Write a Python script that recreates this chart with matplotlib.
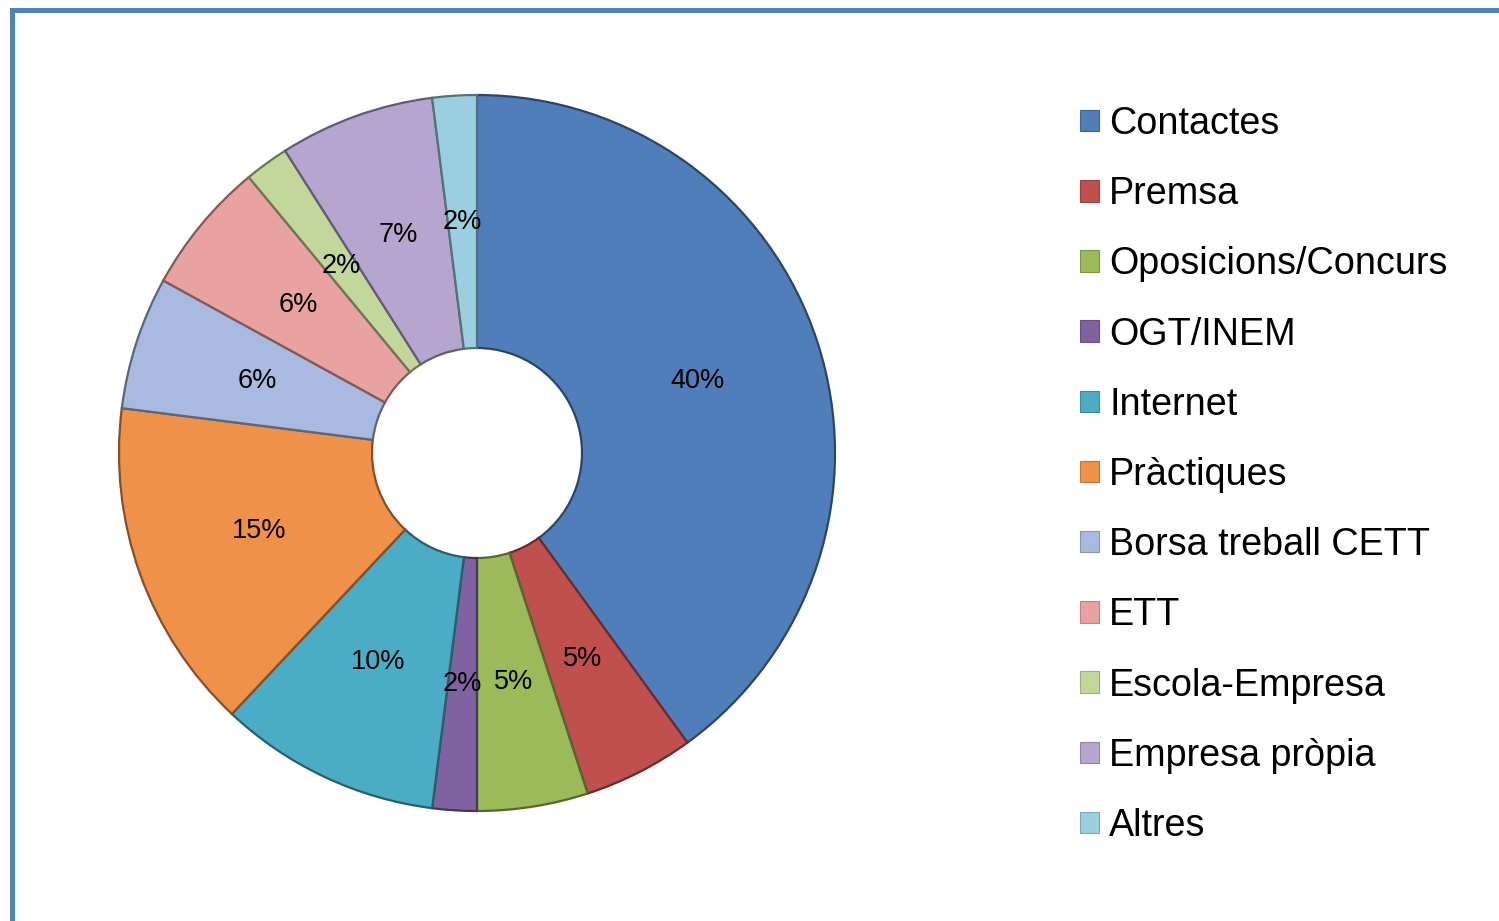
import matplotlib
matplotlib.use("Agg")
import matplotlib.pyplot as plt
from matplotlib.lines import Line2D
from matplotlib.patches import Patch
from matplotlib.colors import to_rgb

categories = ["Contactes", "Premsa", "Oposicions/Concurs", "OGT/INEM", "Internet",
              "Pràctiques", "Borsa treball CETT", "ETT", "Escola-Empresa",
              "Empresa pròpia", "Altres"]
values = [40, 5, 5, 2, 10, 15, 6, 6, 2, 7, 2]
colors = ["#4F7EBA", "#C0504D", "#9BBB59", "#7F63A1", "#4BACC6", "#F0914A",
          "#A8BADF", "#E8A3A1", "#C4D79B", "#B5A5CF", "#9ACFDF"]

plt.rcParams['font.family'] = ['Liberation Sans', 'DejaVu Sans']

W, H = 1499, 921
fig = plt.figure(figsize=(W / 100, H / 100), dpi=100)

cx, cy, R = 477, 453, 358
ax = fig.add_axes([(cx - R) / W, (H - cy - R) / H, 2 * R / W, 2 * R / H])

def darker(c, f=0.55):
    r, g, b = to_rgb(c)
    return (r * f, g * f, b * f)

hole = 105 / R
wedges, texts, autotexts = ax.pie(
    values, colors=colors, startangle=90, counterclock=False, radius=1,
    autopct=lambda p: f"{p:.0f}%", pctdistance=(1 + hole) / 2,
    wedgeprops=dict(width=1 - hole, linewidth=1.6),
    textprops=dict(fontsize=19.5, color="black"))
for w, c in zip(wedges, colors):
    w.set_edgecolor(darker(c))
ax.set_xlim(-1.0, 1.0)
ax.set_ylim(-1.0, 1.0)
ax.set_aspect('auto')
ax.axis('off')

# legend
handles = [Patch(facecolor=c, edgecolor=darker(c, 0.8), linewidth=0.8) for c in colors]
leg = fig.legend(handles, categories, loc="upper left",
                 bbox_to_anchor=(1080 / W, 1 - 106 / H),
                 frameon=False, fontsize=27.2, handlelength=0.5,
                 handleheight=0.5, handletextpad=0.27, labelspacing=0.905,
                 borderaxespad=0, borderpad=0)

# frame lines (left and top)
fig.add_artist(Line2D([12 / W, 12 / W, 1.0], [0.0, 1 - 10 / H, 1 - 10 / H],
                      transform=fig.transFigure, color="#4F81BD", linewidth=3.6,
                      solid_joinstyle="miter"))

fig.savefig("out.png", dpi=100)
